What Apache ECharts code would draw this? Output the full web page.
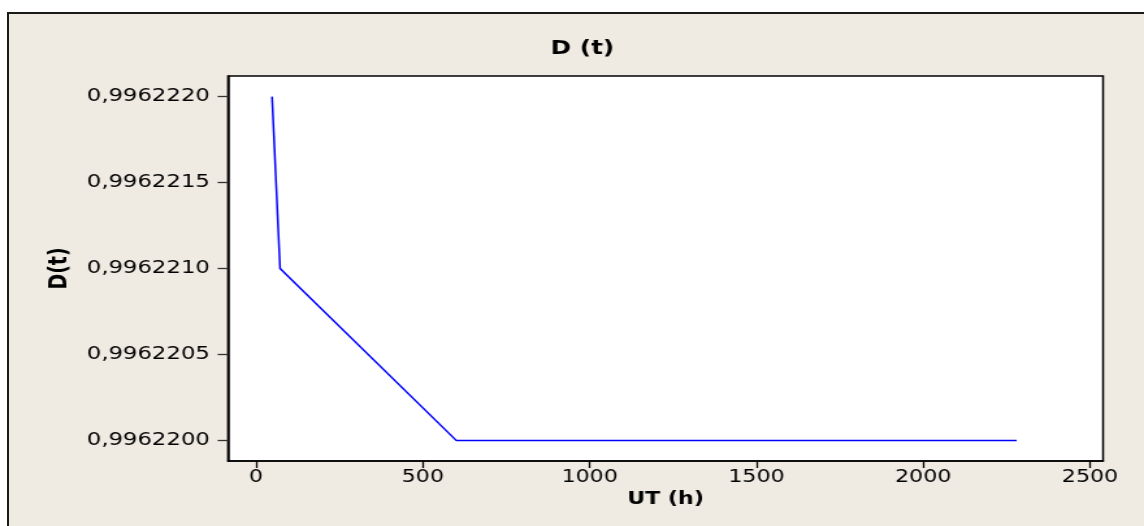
<!DOCTYPE html>
<html>
<head>
<meta charset="utf-8">
<script src="https://cdn.jsdelivr.net/npm/echarts@6/dist/echarts.min.js"></script>
<style>
  html, body { margin: 0; padding: 0; background: #ffffff; width: 1144px; height: 526px; overflow: hidden; }
  #frame { position: absolute; left: 7px; top: 12px; width: 1200px; height: 600px;
           background: #EFEBE2; border: 2px solid #1a1a1a; box-sizing: border-box; }
  /* the graph is laid out narrower and widened horizontally */
  #chart { position: absolute; left: 0; top: 0; width: 880px; height: 526px;
           transform: scaleX(1.3); transform-origin: 0 0; }
</style>
</head>
<body>
<div id="frame"></div>
<div id="chart"></div>
<script>
// D(t) against UT (h)
const ut = [48, 72, 600, 2280];
const dt = [0.996222, 0.996221, 0.99622, 0.99622];
const xTicks = [0, 500, 1000, 1500, 2000, 2500];
const yTicks = [0.99622, 0.9962205, 0.996221, 0.9962215, 0.996222];

const FONT = "'DejaVu Sans', Verdana, sans-serif";

const chart = echarts.init(document.getElementById('chart'), null, { renderer: 'canvas' });

chart.setOption({
  backgroundColor: 'transparent',
  animation: false,
  title: {
    text: 'D (t)',
    left: 448,
    top: 40,
    padding: 0,
    textAlign: 'center',
    textStyle: { fontFamily: FONT, fontSize: 19, fontWeight: 'bold', color: '#000' }
  },
  grid: {
    left: 175.4,
    right: 31.5,
    top: 76,
    bottom: 65,
    show: true,
    backgroundColor: '#ffffff',
    borderColor: '#000000',
    borderWidth: 1.5
  },
  xAxis: {
    type: 'value',
    min: -84,
    max: 2539,
    name: 'UT (h)',
    nameLocation: 'middle',
    nameGap: 22,
    nameTextStyle: { fontFamily: FONT, fontSize: 17, fontWeight: 'bold', color: '#000' },
    axisLine: { show: true, onZero: false, lineStyle: { color: '#000', width: 1.5 } },
    axisTick: { show: true, inside: false, length: 7, customValues: xTicks,
                lineStyle: { color: '#000', width: 1.3 } },
    axisLabel: { show: true, margin: 8, customValues: xTicks,
                 fontFamily: FONT, fontSize: 17, color: '#000',
                 formatter: v => String(v) },
    splitLine: { show: false }
  },
  yAxis: {
    type: 'value',
    min: 0.99621988,
    max: 0.99622212,
    name: 'D(t)',
    nameLocation: 'middle',
    nameGap: 120,
    nameRotate: 90,
    nameTextStyle: { fontFamily: FONT, fontSize: 19, fontWeight: 'bold', color: '#000' },
    axisLine: { show: true, onZero: false, lineStyle: { color: '#000', width: 1.5 } },
    axisTick: { show: true, inside: false, length: 8, customValues: yTicks,
                lineStyle: { color: '#333', width: 1.3 } },
    axisLabel: { show: true, margin: 14, customValues: yTicks,
                 fontFamily: FONT, fontSize: 17.5, color: '#000',
                 formatter: v => v.toFixed(7).replace('.', ',') },
    splitLine: { show: false }
  },
  series: [{
    type: 'line',
    data: ut.map((x, i) => [x, dt[i]]),
    showSymbol: false,
    symbol: 'none',
    lineStyle: { color: '#0000FF', width: 1.5 },
    itemStyle: { color: '#0000FF' }
  }]
});
</script>
</body>
</html>
